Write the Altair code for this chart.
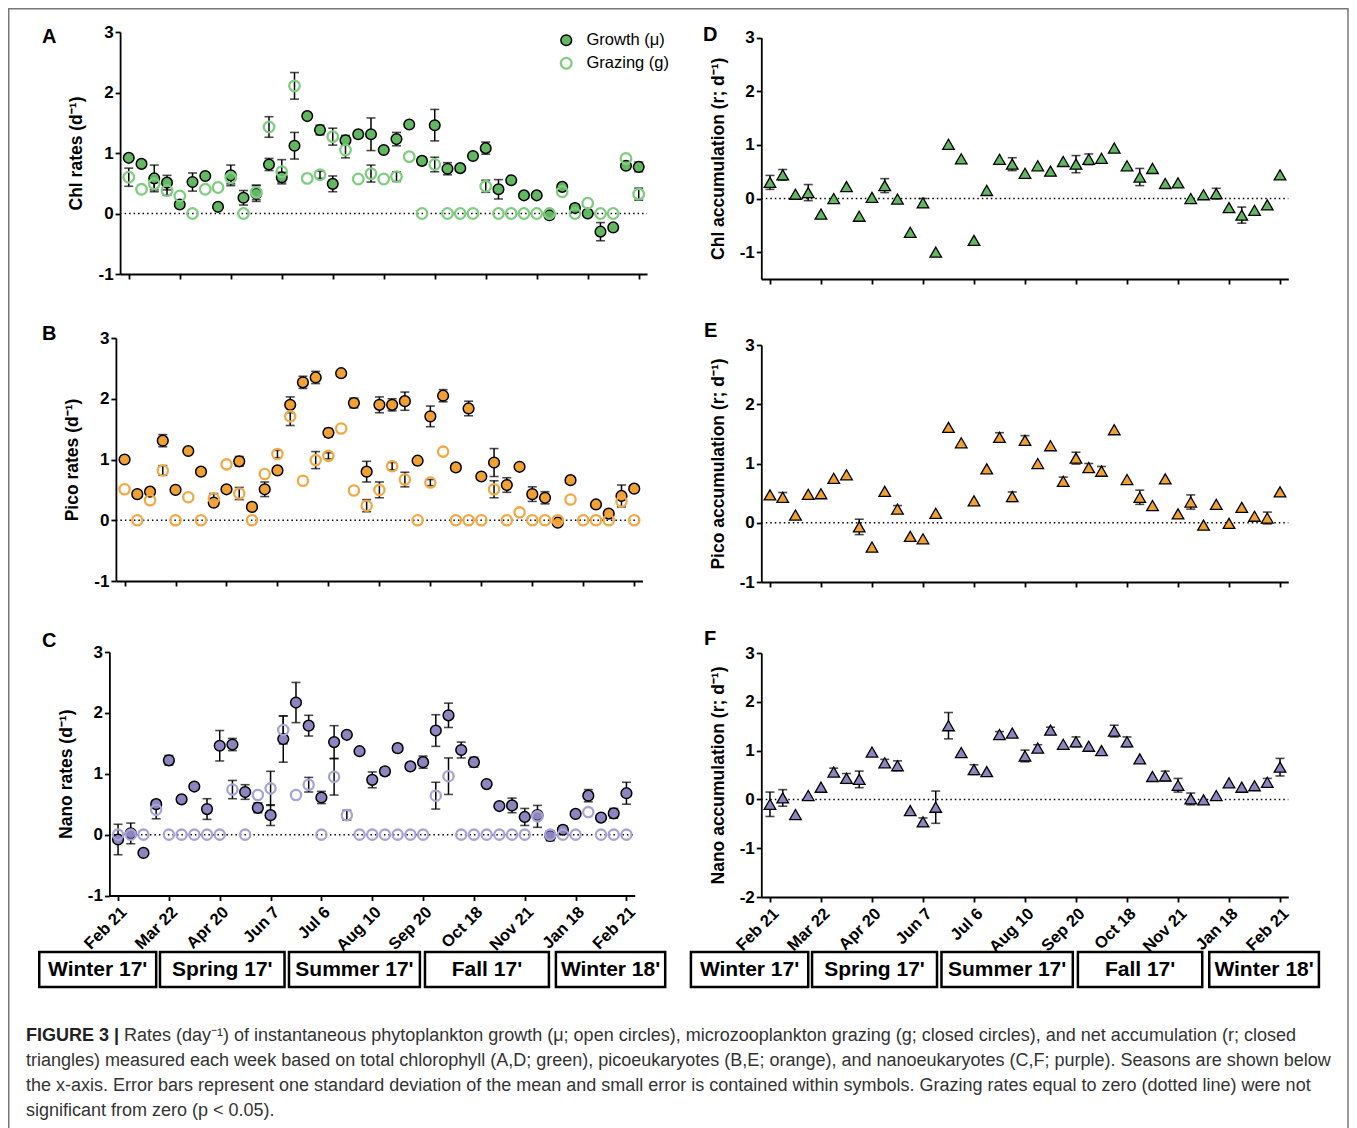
import altair as alt
import pandas as pd

FONT = "Liberation Sans"
W, H = 1341, 1120
XMIN, XMAX = -0.68, 40.65
TICKS = list(range(0, 41, 4))
TICK_LABELS = ["Feb 21", "Mar 22", "Apr 20", "Jun 7", "Jul 6", "Aug 10",
               "Sep 20", "Oct 18", "Nov 21", "Jan 18", "Feb 21"]

SEASONS = ["Winter 17'", "Spring 17'", "Summer 17'", "Fall 17'", "Winter 18'"]
SEASON_START = [-6.2, 3.3, 13.45, 24.15, 34.45]
SEASON_END = [3.0, 13.1, 23.75, 33.9, 43.05]

# ---- Chl (A, D) ----
chl_growth = [0.92, 0.82, 0.58, 0.51, 0.15, 0.52, 0.62, 0.11, 0.63, 0.26, 0.33, 0.81, 0.60, 1.12, 1.61, 1.38,
              0.49, 1.21, 1.31, 1.31, 1.05, 1.23, 1.47, 0.87, 1.46, 0.74, 0.75, 0.95, 1.08, 0.40, 0.55, 0.30,
              0.30, -0.03, 0.44, 0.09, 0.00, -0.30, -0.23, 0.79, 0.77]
chl_growth_sd = [0, 0.05, 0.22, 0.12, 0, 0.15, 0, 0, 0.17, 0.12, 0.13, 0.10, 0.08, 0.22, 0, 0.08,
                 0.13, 0.08, 0.06, 0.27, 0, 0.11, 0, 0.06, 0.26, 0.10, 0, 0, 0.10, 0.16, 0, 0,
                 0, 0.06, 0.04, 0.06, 0, 0.15, 0.05, 0.05, 0.08]
chl_grazing = [0.60, 0.40, 0.49, 0.38, 0.29, 0.0, 0.40, 0.43, 0.59, 0.0, 0.35, 1.43, 0.69, 2.11, 0.58, 0.64,
               1.27, 1.05, 0.57, 0.66, 0.57, 0.61, 0.94, 0.0, 0.81, 0.0, 0.0, 0.0, 0.45, 0.0, 0.0, 0.0,
               0.0, 0.0, 0.36, 0.0, 0.17, 0.0, 0.0, 0.91, 0.32]
chl_grazing_sd = [0.15, 0, 0.10, 0.08, 0, 0, 0, 0, 0.10, 0, 0.12, 0.17, 0.20, 0.22, 0, 0.06,
                  0.14, 0.13, 0, 0.14, 0, 0.08, 0, 0, 0.12, 0, 0, 0, 0.10, 0, 0, 0,
                  0, 0, 0, 0, 0, 0, 0, 0, 0.10]
chl_r = [0.30, 0.44, 0.08, 0.11, -0.29, 0.00, 0.22, -0.33, 0.02, 0.24, -0.01, -0.63, -0.08, -1.00, 1.01, 0.74,
         -0.78, 0.15, 0.73, 0.64, 0.47, 0.61, 0.51, 0.69, 0.64, 0.73, 0.75, 0.94, 0.61, 0.40, 0.56, 0.28,
         0.29, 0.00, 0.07, 0.09, -0.17, -0.31, -0.22, -0.12, 0.44]
chl_r_sd = [0.13, 0.10, 0, 0.15, 0, 0, 0, 0, 0, 0.13, 0, 0, 0.08, 0, 0, 0,
            0, 0, 0, 0.12, 0, 0, 0, 0, 0.16, 0.10, 0, 0, 0, 0.16, 0, 0,
            0, 0, 0, 0.10, 0, 0.15, 0, 0, 0]

# ---- Pico (B, E) ----
pico_growth = [1.00, 0.43, 0.47, 1.31, 0.50, 1.14, 0.80, 0.29, 0.51, 0.97, 0.22, 0.51, 0.82, 1.90, 2.27, 2.35,
               1.44, 2.42, 1.93, 0.80, 1.90, 1.90, 1.96, 0.98, 1.71, 2.05, 0.87, 1.84, 0.72, 0.95, 0.58, 0.88,
               0.43, 0.37, -0.04, 0.66, None, 0.26, 0.11, 0.40, 0.52]
pico_growth_sd = [0, 0.05, 0, 0.10, 0, 0, 0, 0.05, 0, 0.08, 0.05, 0.12, 0.04, 0.13, 0.10, 0.10,
                  0.07, 0, 0.08, 0.17, 0.13, 0.10, 0.15, 0, 0.17, 0.10, 0.05, 0.12, 0, 0.23, 0.12, 0,
                  0.12, 0.10, 0, 0, 0, 0, 0, 0.18, 0]
pico_grazing = [0.51, 0.0, 0.33, 0.82, 0.0, 0.38, 0.0, 0.36, 0.92, 0.44, 0.0, 0.76, 1.09, 1.71, 0.65, 0.99,
                1.06, 1.51, 0.49, 0.24, 0.50, 0.89, 0.67, 0.0, 0.62, 1.13, 0.0, 0.0, 0.0, 0.51, 0.0, 0.13,
                0.0, 0.0, 0.0, 0.34, 0.0, 0.0, 0.0, 0.31, 0.0]
pico_grazing_sd = [0, 0, 0, 0.08, 0, 0, 0, 0.08, 0, 0.10, 0, 0, 0.06, 0.15, 0, 0.14,
                   0.05, 0, 0, 0.10, 0.13, 0.06, 0.12, 0, 0.05, 0, 0, 0, 0, 0.14, 0, 0,
                   0, 0, 0, 0, 0, 0, 0, 0, 0]
pico_r = [0.47, 0.43, 0.13, 0.48, 0.49, 0.75, 0.81, -0.07, -0.41, 0.53, 0.23, -0.23, -0.27, 0.16, 1.61, 1.35,
          0.37, 0.91, 1.44, 0.44, 1.39, 1.00, 1.30, 0.70, 1.09, 0.93, 0.87, 1.57, 0.73, 0.43, 0.29, 0.74,
          0.15, 0.35, -0.04, 0.31, -0.01, 0.26, 0.11, 0.08, 0.52]
pico_r_sd = [0, 0.08, 0, 0, 0, 0, 0, 0.13, 0, 0, 0.06, 0, 0, 0, 0, 0,
             0, 0, 0.08, 0.08, 0.08, 0, 0, 0.07, 0.10, 0.07, 0.08, 0, 0, 0.12, 0, 0,
             0, 0.12, 0, 0, 0, 0, 0, 0.10, 0]

# ---- Nano (C, F) ----
nano_growth = [-0.08, 0.02, -0.30, 0.50, 1.22, 0.58, 0.79, 0.42, 1.46, 1.48, 0.70, 0.44, 0.32, 1.57, 2.17, 1.79,
               0.61, 1.52, 1.64, 1.37, 0.90, 1.04, 1.42, 1.12, 1.19, 1.71, 1.96, 1.39, 1.19, 0.83, 0.47, 0.48,
               0.29, 0.32, -0.02, 0.08, 0.34, 0.64, 0.28, 0.35, 0.68]
nano_growth_sd = [0.25, 0.17, 0, 0.05, 0.08, 0.06, 0, 0.17, 0.25, 0.10, 0.12, 0.08, 0.17, 0.38, 0.33, 0.17,
                  0.10, 0.27, 0, 0, 0.13, 0.06, 0.06, 0.06, 0.10, 0.26, 0.20, 0.13, 0.08, 0, 0, 0.12,
                  0.14, 0, 0.08, 0.06, 0, 0.10, 0, 0.08, 0.18]
nano_grazing = [0.0, 0.0, 0.0, 0.41, 0.0, 0.0, 0.0, 0.0, 0.0, 0.74, 0.0, 0.65, 0.76, 1.72, 0.65, 0.82,
                0.0, 0.95, 0.32, 0.0, 0.0, 0.0, 0.0, 0.0, 0.0, 0.64, 0.96, 0.0, 0.0, 0.0, 0.0, 0.0,
                0.0, 0.30, 0.0, 0.0, 0.0, 0.37, 0.0, 0.0, 0.0]
nano_grazing_sd = [0, 0, 0, 0.15, 0, 0, 0, 0, 0, 0.15, 0, 0, 0.28, 0.23, 0, 0.12,
                   0, 0.30, 0.08, 0, 0, 0, 0, 0, 0, 0.22, 0.30, 0, 0, 0, 0, 0,
                   0, 0.18, 0, 0, 0, 0, 0, 0, 0]
nano_r = [-0.10, 0.03, -0.31, 0.08, 0.25, 0.56, 0.43, 0.41, 0.97, 0.75, 0.69, -0.23, -0.46, -0.16, 1.51, 0.96,
          0.61, 0.57, 1.33, 1.36, 0.89, 1.05, 1.42, 1.13, 1.18, 1.09, 1.00, 1.40, 1.18, 0.83, 0.47, 0.48,
          0.29, 0.01, -0.01, 0.08, 0.34, 0.25, 0.28, 0.35, 0.66]
nano_r_sd = [0.25, 0.17, 0, 0, 0, 0.08, 0.10, 0.17, 0, 0.07, 0.10, 0, 0.08, 0.33, 0.27, 0,
             0.10, 0, 0.06, 0, 0.12, 0.07, 0.06, 0, 0.10, 0, 0, 0.12, 0.10, 0, 0, 0.10,
             0.14, 0.12, 0, 0, 0, 0, 0, 0.08, 0.18]

CAPTION_BOLD = "FIGURE 3 |"
CAPTION_LINES = [
    "Rates (day\u207b\u00b9) of instantaneous phytoplankton growth (\u03bc; open circles), microzooplankton grazing (g; closed circles), and net accumulation (r; closed",
    "triangles) measured each week based on total chlorophyll (A,D; green), picoeukaryotes (B,E; orange), and nanoeukaryotes (C,F; purple). Seasons are shown below",
    "the x-axis. Error bars represent one standard deviation of the mean and small error is contained within symbols. Grazing rates equal to zero (dotted line) were not",
    "significant from zero (p < 0.05).",
]

GREEN, GREEN_OPEN = "#62b862", "#80cc80"
ORANGE, ORANGE_OPEN = "#f0a132", "#f2a845"
PURPLE, PURPLE_OPEN = "#8b86c0", "#a7a3d6"

ONE = pd.DataFrame({"k": [0]})


def pts(vals):
    return pd.DataFrame([{"idx": i, "v": v} for i, v in enumerate(vals) if v is not None])


def errs(vals, sds):
    rows = [{"idx": i, "lo": v - e, "hi": v + e}
            for i, (v, e) in enumerate(zip(vals, sds)) if v is not None and e > 0]
    return pd.DataFrame(rows)


def x_axis(labels, offset):
    kw = dict(values=TICKS, orient="bottom", offset=offset, title=None, grid=False,
              domainColor="black", domainWidth=1.8, tickColor="black", tickWidth=1.8, tickSize=5,
              labels=labels)
    if labels:
        arr = "[" + ",".join("'%s'" % t for t in TICK_LABELS) + "]"
        kw.update(labelExpr=arr + "[round(datum.value/4)]", labelAngle=315, labelFont=FONT,
                  labelFontSize=16.5, labelFontWeight="bold", labelColor="black", labelPadding=3,
                  labelOverlap=False, labelFlush=False, labelBound=False, labelAlign="right",
                  labelBaseline="top")
    return alt.Axis(**kw)


def y_axis(title, vals, offset):
    return alt.Axis(values=vals, orient="left", offset=offset, title=title, grid=False,
                    titleFont=FONT, titleFontSize=17.5, titleFontWeight="bold", titleColor="black",
                    titlePadding=12, labelFont=FONT, labelFontSize=17, labelFontWeight="bold",
                    labelColor="black", labelPadding=2, labelExpr="'' + datum.value",
                    domainColor="black", domainWidth=1.8, tickColor="black", tickWidth=1.8, tickSize=5)


def panel(xr, yr, ydom, yvals, ytitle, show_labels, point_layers, seasons=False):
    xs = alt.Scale(domain=[XMIN, XMAX], range=xr, nice=False, zero=False)
    ys = alt.Scale(domain=ydom, range=yr, nice=False, zero=False)
    xa = x_axis(show_labels, yr[0] - H)
    ya = y_axis(ytitle, yvals, -xr[0])

    def X(f):
        return alt.X(f, type="quantitative", scale=xs, axis=xa)

    def Y(f):
        return alt.Y(f, type="quantitative", scale=ys, axis=ya)

    layers = []
    zero = pd.DataFrame({"a": [XMIN], "b": [XMAX], "z": [0]})
    layers.append(alt.Chart(zero).mark_rule(color="black", strokeDash=[1.5, 3], strokeWidth=1.5)
                  .encode(x=X("a"), x2="b", y=Y("z")))
    for kind, vals, sds, style in point_layers:
        e = errs(vals, sds)
        if len(e):
            base = alt.Chart(e)
            layers.append(base.mark_rule(color="black", strokeWidth=1.5)
                          .encode(x=X("idx"), y=Y("lo"), y2="hi"))
            layers.append(base.mark_tick(color="black", orient="horizontal", size=9, thickness=1.6)
                          .encode(x=X("idx"), y=Y("lo")))
            layers.append(base.mark_tick(color="black", orient="horizontal", size=9, thickness=1.6)
                          .encode(x=X("idx"), y=Y("hi")))
    for kind, vals, sds, style in point_layers:
        p = alt.Chart(pts(vals))
        if kind == "filled":
            m = p.mark_point(shape="circle", filled=True, fill=style, stroke="black",
                             strokeWidth=1.5, size=115, opacity=1)
        elif kind == "open":
            m = p.mark_point(shape="circle", filled=False, color=style, strokeWidth=2.3,
                             size=105, opacity=1)
        else:
            m = p.mark_point(shape="triangle-up", filled=True, fill=style, stroke="black",
                             strokeWidth=1.3, size=135, opacity=1)
        layers.append(m.encode(x=X("idx"), y=Y("v")))
    if seasons:
        sd = pd.DataFrame({"s": SEASON_START, "e": SEASON_END, "name": SEASONS})
        sd["mid"] = (sd["s"] + sd["e"]) / 2
        layers.append(alt.Chart(sd).mark_rect(fill="white", stroke="black", strokeWidth=2.5)
                      .encode(x=X("s"), x2="e", y=alt.value(944), y2=alt.value(979)))
        layers.append(alt.Chart(sd).mark_text(font=FONT, fontSize=21, fontWeight="bold", color="black",
                                              baseline="middle", align="center")
                      .encode(x=X("mid"), y=alt.value(962), text="name:N"))
    return alt.layer(*layers)


def txt(t, x, y, size, weight="bold", color="black"):
    return alt.Chart(ONE).mark_text(text=t, font=FONT, fontSize=size, fontWeight=weight, color=color,
                                    align="left", baseline="alphabetic").encode(x=alt.value(x), y=alt.value(y))


# panel A with legend
GROW, GRAZE = "Growth (\u03bc)", "Grazing (g)"
xsA = alt.Scale(domain=[XMIN, XMAX], range=[112.1, 639.0], nice=False, zero=False)
ysA = alt.Scale(domain=[-1, 3], range=[266, 24], nice=False, zero=False)
xaA = x_axis(False, 266 - H)
yaA = y_axis("Chl rates (d\u207b\u00b9)", [-1, 0, 1, 2, 3], -112.1)
LEG = alt.Legend(orient="none", legendX=550, legendY=24, title=None, labelFont=FONT, labelFontSize=16.5,
                 labelColor="black", symbolType="circle", symbolSize=115, symbolStrokeWidth=1.8,
                 rowPadding=4, labelOffset=12, padding=0)
dfA = pd.concat([pts(chl_growth).assign(s=GROW), pts(chl_grazing).assign(s=GRAZE)], ignore_index=True)
eA1, eA2 = errs(chl_growth, chl_growth_sd), errs(chl_grazing, chl_grazing_sd)
eA = pd.concat([eA1, eA2], ignore_index=True)
XA = lambda f: alt.X(f, type="quantitative", scale=xsA, axis=xaA)
YA = lambda f: alt.Y(f, type="quantitative", scale=ysA, axis=yaA)
panelA = alt.layer(
    alt.Chart(pd.DataFrame({"a": [XMIN], "b": [XMAX], "z": [0]}))
    .mark_rule(color="black", strokeDash=[1.5, 3], strokeWidth=1.5).encode(x=XA("a"), x2="b", y=YA("z")),
    alt.Chart(eA).mark_rule(color="black", strokeWidth=1.5).encode(x=XA("idx"), y=YA("lo"), y2="hi"),
    alt.Chart(eA).mark_tick(color="black", orient="horizontal", size=9, thickness=1.6)
    .encode(x=XA("idx"), y=YA("lo")),
    alt.Chart(eA).mark_tick(color="black", orient="horizontal", size=9, thickness=1.6)
    .encode(x=XA("idx"), y=YA("hi")),
    alt.Chart(dfA).mark_point(shape="circle", filled=True, size=112, opacity=1).encode(
        x=XA("idx"), y=YA("v"),
        fill=alt.Fill("s:N", scale=alt.Scale(domain=[GROW, GRAZE], range=[GREEN, "transparent"]), legend=LEG),
        stroke=alt.Stroke("s:N", scale=alt.Scale(domain=[GROW, GRAZE], range=["black", GREEN_OPEN]), legend=LEG),
        strokeWidth=alt.StrokeWidth("s:N", scale=alt.Scale(domain=[GROW, GRAZE], range=[1.5, 2.3]), legend=None),
    ),
)

XR_L_B, XR_L_C = [107.9, 634.5], [101.4, 626.7]
XR_R = [753.3, 1280.3]

panelB = panel(XR_L_B, [573, 330], [-1, 3], [-1, 0, 1, 2, 3], "Pico rates (d\u207b\u00b9)", False,
               [("filled", pico_growth, pico_growth_sd, ORANGE), ("open", pico_grazing, pico_grazing_sd, ORANGE_OPEN)])
panelC = panel(XR_L_C, [887.5, 644], [-1, 3], [-1, 0, 1, 2, 3], "Nano rates (d\u207b\u00b9)", True,
               [("filled", nano_growth, nano_growth_sd, PURPLE), ("open", nano_grazing, nano_grazing_sd, PURPLE_OPEN)],
               seasons=True)
panelD = panel(XR_R, [271, 29.5], [-1.5, 3], [-1, 0, 1, 2, 3], "Chl accumulation (r; d\u207b\u00b9)", False,
               [("tri", chl_r, chl_r_sd, GREEN)])
panelE = panel(XR_R, [574, 337], [-1, 3], [-1, 0, 1, 2, 3], "Pico accumulation (r; d\u207b\u00b9)", False,
               [("tri", pico_r, pico_r_sd, ORANGE)])
panelF = panel(XR_R, [889, 645], [-2, 3], [-2, -1, 0, 1, 2, 3], "Nano accumulation (r; d\u207b\u00b9)", True,
               [("tri", nano_r, nano_r_sd, PURPLE)], seasons=True)

texts = [
    txt("A", 34, 35, 20), txt("B", 34, 332, 20), txt("C", 34, 639, 20),
    txt("D", 695, 33, 20), txt("E", 696, 329, 20), txt("F", 696, 637, 20),
    txt(CAPTION_BOLD, 18, 1033, 18, "bold", "#222"),
]
cap_y = [1033, 1058, 1083, 1108]
for i, line in enumerate(CAPTION_LINES):
    x0 = 116 if i == 0 else 18
    texts.append(txt(line, x0, cap_y[i], 18, "normal", "#333"))

frame = alt.Chart(ONE).mark_rect(fillOpacity=0, stroke="#777777", strokeWidth=1.5).encode(
    x=alt.value(0.75), x2=alt.value(1340), y=alt.value(0.75), y2=alt.value(1200))

chart = alt.layer(panelA, panelB, panelC, panelD, panelE, panelF, frame, *texts).resolve_scale(
    x="independent", y="independent"
).properties(width=W, height=H, padding=0, autosize="none", background="white").configure_view(strokeWidth=0)

chart.save("out.html", embed_options={"renderer": "svg", "actions": False})
